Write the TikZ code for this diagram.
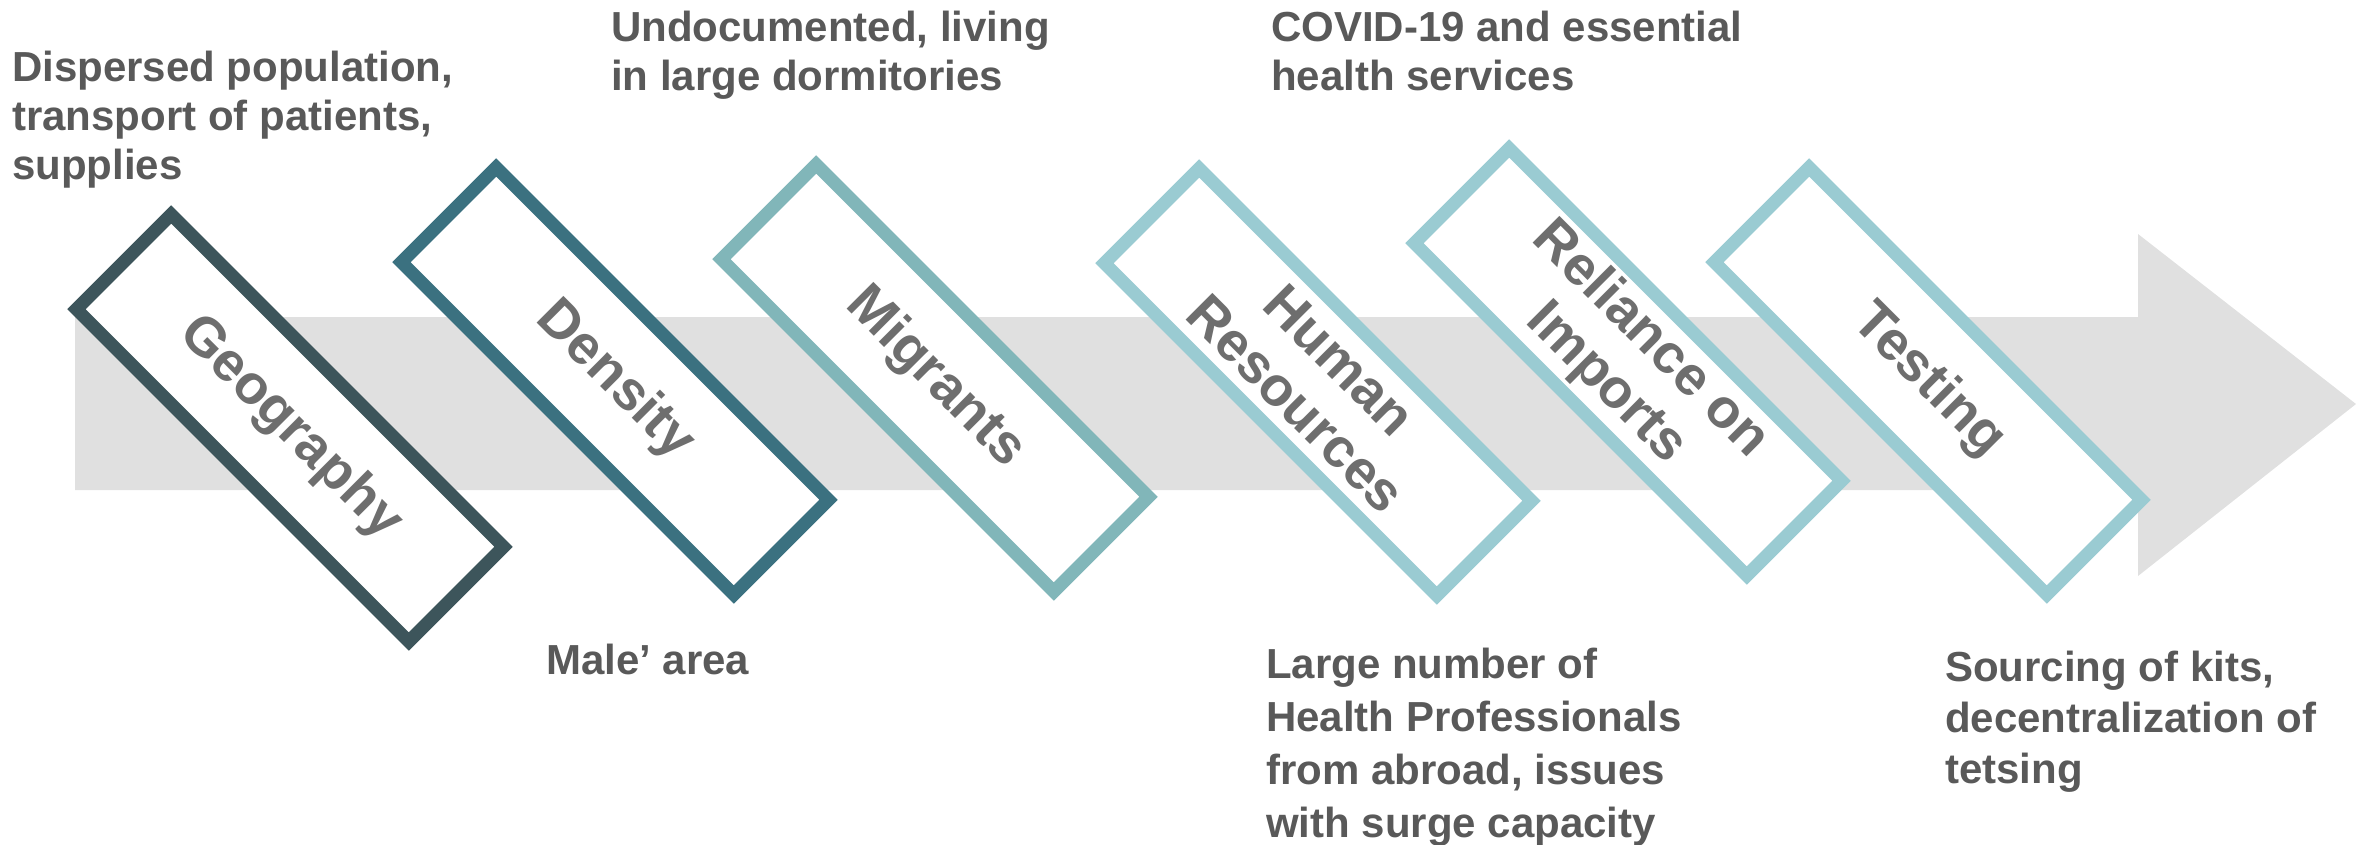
\documentclass[tikz,border=0pt]{standalone}
\usepackage{fontspec}
\setmainfont{Liberation Sans}
\usetikzlibrary{positioning}
\definecolor{geocol}{HTML}{3D555B}
\definecolor{dencol}{HTML}{3B7180}
\definecolor{migcol}{HTML}{81B6B9}
\definecolor{lightcol}{HTML}{9ACBD2}
\definecolor{arrowgray}{HTML}{E0E0E0}
\definecolor{labgray}{HTML}{6E6E6E}
\definecolor{notegray}{HTML}{595959}

\begin{document}
\begin{tikzpicture}[x=1pt,y=-1pt,
  box/.style={draw=#1,line width=13pt,fill=white,rotate=-45,minimum width=470pt,minimum height=134pt,
    inner sep=0pt,align=center,text=labgray,font=\bfseries\fontsize{55}{62}\selectfont},
  note/.style={anchor=north west,inner sep=0pt,align=left,text=notegray,font=\bfseries\fontsize{42}{49}\selectfont}]
\useasboundingbox (0,0) rectangle (2364,844);
% background arrow
\fill[arrowgray] (75,317) -- (2138,317) -- (2138,234) -- (2356,404) -- (2138,576) -- (2138,490) -- (75,490) -- cycle;
% the six factors
\foreach \name/\cx/\cy/\col/\lab in {geo/290/428/geocol/Geography,den/615/381/dencol/Density,
  mig/935/378/migcol/Migrants,hr/1318/382/lightcol/{Human\\Resources},
  imp/1628/362/lightcol/{Reliance on\\Imports},test/1928/381/lightcol/Testing}{
  \node[box=\col] (\name) at (\cx,\cy) {\lab};
}
% notes above and below
\node[note] (geonote) at (12,51) {Dispersed population,\\transport of patients,\\supplies};
\node[note] (dennote) at (546,644) {Male’ area};
\node[note] (mignote) at (611,11) {Undocumented, living\\in large dormitories};
\node[note,font=\bfseries\fontsize{42}{53}\selectfont] (hrnote) at (1266,648) {Large number of\\Health Professionals\\from abroad, issues\\with surge capacity};
\node[note] (impnote) at (1271,11) {COVID-19 and essential\\health services};
\node[note,font=\bfseries\fontsize{42}{51}\selectfont] (testnote) at (1945,651) {Sourcing of kits,\\decentralization of\\tetsing};
\end{tikzpicture}
\end{document}
